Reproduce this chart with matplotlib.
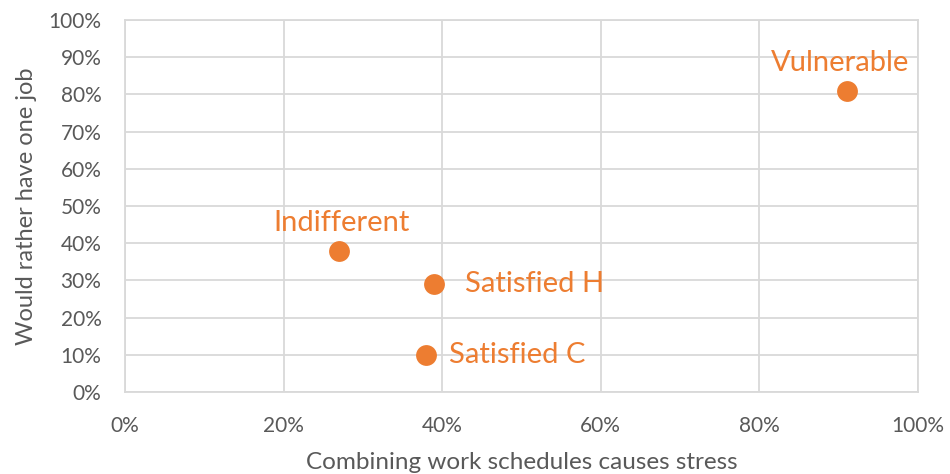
import matplotlib.pyplot as plt
from matplotlib.ticker import PercentFormatter

# segments: share saying combining schedules causes stress vs. would rather have one job
segments = ["Vulnerable", "Indifferent", "Satisfied H", "Satisfied C"]
stress = [0.91, 0.27, 0.39, 0.38]
one_job = [0.81, 0.38, 0.29, 0.10]

ORANGE = "#ED7D31"
GRID = "#D9D9D9"
TEXT = "#595959"

plt.rcParams["font.family"] = ["Lato", "DejaVu Sans"]

fig = plt.figure(figsize=(9.5, 4.74), dpi=100)
ax = fig.add_axes([125 / 950, 82 / 474, 793 / 950, 372 / 474])

ax.scatter(stress, one_job, s=225, color=ORANGE, zorder=3, linewidths=0)

# label placement (offset points, alignment) per segment
label_pos = {
    "Vulnerable": ((-5, 20), "center", "center"),
    "Indifferent": ((2, 20), "center", "center"),
    "Satisfied H": ((22, 0), "left", "center"),
    "Satisfied C": ((16, 0), "left", "center"),
}
for name, x, y in zip(segments, stress, one_job):
    off, ha, va = label_pos[name]
    ax.annotate(name, (x, y), xytext=off, textcoords="offset points",
                ha=ha, va=va, fontsize=21, color=ORANGE)

ax.set_xlim(0, 1)
ax.set_ylim(0, 1)
ax.set_xticks([i / 5 for i in range(6)])
ax.set_yticks([i / 10 for i in range(11)])
ax.xaxis.set_major_formatter(PercentFormatter(1.0, decimals=0))
ax.yaxis.set_major_formatter(PercentFormatter(1.0, decimals=0))
ax.grid(True, color=GRID, linewidth=1.3)
ax.set_axisbelow(True)
for sp in ax.spines.values():
    sp.set_color(GRID)
    sp.set_linewidth(1.3)
ax.tick_params(length=0, labelsize=15, colors=TEXT)
ax.tick_params(axis="y", pad=17)
ax.tick_params(axis="x", pad=17)

ax.set_xlabel("Combining work schedules causes stress", fontsize=17.5, color=TEXT, labelpad=12)
ax.set_ylabel("Would rather have one job", fontsize=17, color=TEXT, labelpad=8)

fig.savefig("out.png", dpi=100)
